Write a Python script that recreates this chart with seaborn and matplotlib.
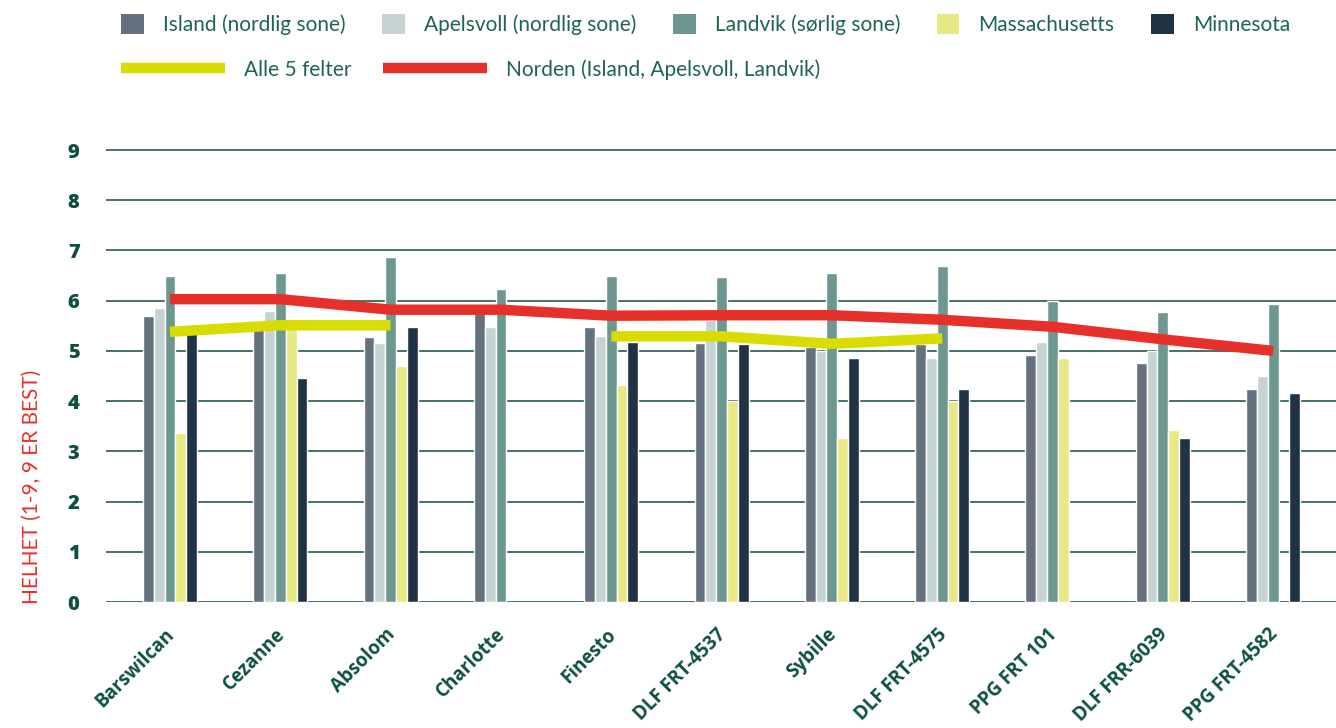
import numpy as np
import pandas as pd
import matplotlib
matplotlib.use('Agg')
import matplotlib.pyplot as plt
from matplotlib.patches import Patch
from matplotlib.lines import Line2D
import seaborn as sns

nan = np.nan

sorter = ['Barswilcan', 'Cezanne', 'Absolom', 'Charlotte', 'Finesto', 'DLF FRT-4537',
          'Sybille', 'DLF FRT-4575', 'PPG FRT 101', 'DLF FRR-6039', 'PPG FRT-4582']
island = [5.70, 5.55, 5.28, 5.76, 5.47, 5.16, 5.08, 5.13, 4.91, 4.75, 4.25]
apelsvoll = [5.86, 5.80, 5.15, 5.47, 5.29, 5.62, 4.99, 4.86, 5.17, 4.99, 4.50]
landvik = [6.49, 6.55, 6.87, 6.23, 6.49, 6.48, 6.55, 6.69, 6.00, 5.78, 5.93]
massachusetts = [3.37, 5.55, 4.69, nan, 4.32, 4.00, 3.27, 4.00, 4.86, 3.43, nan]
minnesota = [5.35, 4.47, 5.47, nan, 5.18, 5.14, 4.86, 4.24, nan, 3.27, 4.17]
alle5 = [5.38, 5.51, 5.51, nan, 5.29, 5.29, 5.14, 5.25, nan, nan, nan]
norden = [6.03, 6.03, 5.82, 5.82, 5.70, 5.71, 5.71, 5.62, 5.48, 5.23, 5.00]

series = ['Island (nordlig sone)', 'Apelsvoll (nordlig sone)', 'Landvik (sørlig sone)',
          'Massachusetts', 'Minnesota']
colors = ['#66717f', '#c5d3d2', '#6d9892', '#e8e885', '#1f3344']

df = pd.DataFrame({'sort': sorter, series[0]: island, series[1]: apelsvoll,
                   series[2]: landvik, series[3]: massachusetts, series[4]: minnesota})
long = df.melt(id_vars='sort', var_name='felt', value_name='verdi')

sns.set_style('white')
plt.rcParams['font.family'] = ['Lato', 'DejaVu Sans']

text_green = '#1d6356'
dark_green = '#0c4f43'
grid_green = '#22594f'
red = '#e8302a'
yellow = '#d8dc00'

fig = plt.figure(figsize=(13.36, 7.28), dpi=100)
ax = fig.add_axes([106 / 1336, 1 - 602 / 728, 1230 / 1336, 453 / 728])

sns.barplot(data=long, x='sort', y='verdi', hue='felt', hue_order=series,
            palette=colors, width=0.49, saturation=1, legend=False, ax=ax,
            errorbar=None)

xs = np.arange(len(sorter))
ax.plot(xs, alle5, color=yellow, lw=7.5, solid_capstyle='butt', zorder=5)
ax.plot(xs, norden, color=red, lw=7.5, solid_capstyle='butt', zorder=6)

ax.set_ylim(0, 9.02)
ax.set_xlim(-0.58, 10.57)
ax.set_yticks(range(10))
ax.set_axisbelow(True)
ax.yaxis.grid(True, color=grid_green, lw=1.2)
ax.xaxis.grid(False)
for s in ax.spines.values():
    s.set_visible(False)
ax.tick_params(axis='both', length=0)
ax.tick_params(axis='y', pad=19, labelsize=14.5, labelcolor=dark_green)
ax.tick_params(axis='x', pad=20, labelsize=13.5, labelcolor=dark_green)
for lab in ax.get_yticklabels():
    lab.set_fontweight('heavy')
    lab.set_family(['Open Sans', 'DejaVu Sans'])
for lab in ax.get_xticklabels():
    lab.set_fontweight('bold')
    lab.set_family(['Open Sans', 'DejaVu Sans'])
    lab.set_rotation(45)
    lab.set_ha('right')
    lab.set_va('center_baseline')
    lab.set_rotation_mode('anchor')

ax.set_xlabel('')
ax.set_ylabel('HELHET (1-9, 9 ER BEST)', color=red, fontsize=15)
ax.yaxis.set_label_coords(-0.052, 0.254)

fs = 15
bar_handles = [Patch(facecolor=c, edgecolor='none') for c in colors]
leg1 = fig.legend(bar_handles, series, loc='upper left', bbox_to_anchor=(121 / 1336, 1 - 14 / 728),
                  ncol=5, frameon=False, fontsize=fs, borderpad=0, borderaxespad=0,
                  handlelength=1.1, handleheight=1.1, handletextpad=0.91,
                  columnspacing=1.75, labelcolor=text_green)
line_handles = [Line2D([0], [0], color=yellow, lw=7.5, solid_capstyle='butt'),
                Line2D([0], [0], color=red, lw=7.5, solid_capstyle='butt')]
leg2 = fig.legend(line_handles, ['Alle 5 felter', 'Norden (Island, Apelsvoll, Landvik)'],
                  loc='upper left', bbox_to_anchor=(121 / 1336, 1 - 59 / 728),
                  ncol=2, frameon=False, fontsize=fs, borderpad=0, borderaxespad=0,
                  handlelength=5.0, handletextpad=0.91, columnspacing=1.5,
                  labelcolor=text_green)

fig.savefig('out.png', dpi=100)
